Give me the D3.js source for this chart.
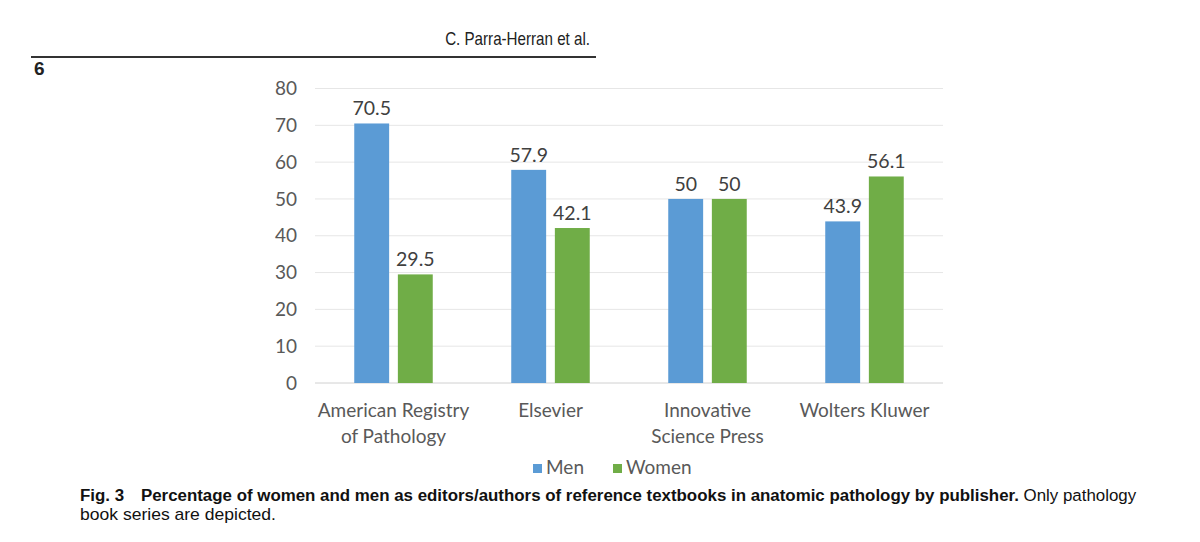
<!DOCTYPE html>
<html>
<head>
<meta charset="utf-8">
<script src="https://cdn.jsdelivr.net/npm/d3@7"></script>
<style>
  body { margin: 0; background: #fff; }
  svg { display: block; }
</style>
</head>
<body>
<svg id="chart" width="1200" height="542"></svg>
<script>
// chart data
var publishers = [["American Registry", "of Pathology"], ["Elsevier"], ["Innovative", "Science Press"], ["Wolters Kluwer"]];
var seriesNames = ["Men", "Women"];
var men = [70.5, 57.9, 50, 43.9];
var women = [29.5, 42.1, 50, 56.1];
var yTicks = [0, 10, 20, 30, 40, 50, 60, 70, 80];
var colors = ["#5b9bd5", "#70ad47"];

var svg = d3.select("#chart");
var chartFont = "Lato, 'Open Sans', sans-serif";
var paperFont = "'Liberation Sans Narrow', 'Liberation Sans', sans-serif";

// page header bits (journal page)
var header = svg.append("text")
  .attr("x", 590).attr("y", 45)
  .attr("text-anchor", "end")
  .attr("font-family", paperFont)
  .attr("font-size", 18)
  .attr("fill", "#222")
  .text("C. Parra-Herran et al.");
svg.append("line")
  .attr("x1", 31).attr("x2", 596)
  .attr("y1", 57).attr("y2", 57)
  .attr("stroke", "#333").attr("stroke-width", 2);
svg.append("text")
  .attr("x", 34).attr("y", 75)
  .attr("font-family", paperFont)
  .attr("font-weight", "bold")
  .attr("font-size", 19)
  .attr("fill", "#222")
  .text("6");

var keys = publishers.map(function(d) { return d.join(" "); });

var x0 = d3.scaleBand()
  .domain(keys)
  .range([315, 943])
  .paddingInner(0.5)
  .paddingOuter(0.25);

var x1 = d3.scaleBand()
  .domain(seriesNames)
  .range([0, x0.bandwidth()])
  .paddingInner(0.2);

var y = d3.scaleLinear()
  .domain([0, 80])
  .range([383, 88.5]);

// gridlines
svg.append("g")
  .selectAll("line")
  .data(yTicks)
  .enter().append("line")
  .attr("x1", 315).attr("x2", 943)
  .attr("y1", function(d) { return y(d); })
  .attr("y2", function(d) { return y(d); })
  .attr("stroke", function(d) { return d === 0 ? "#d0d0d0" : "#e6e6e6"; })
  .attr("stroke-width", 1);

// y axis labels
var yAxis = d3.axisLeft(y).tickValues(yTicks).tickSize(0).tickPadding(0);
var yg = svg.append("g")
  .attr("transform", "translate(297,0)")
  .call(yAxis);
yg.select(".domain").remove();
yg.selectAll("text")
  .attr("font-family", chartFont)
  .attr("font-size", 19)
  .attr("fill", "#595959");

// bars
var rows = keys.map(function(k, i) {
  return { key: k, values: [men[i], women[i]] };
});

var groups = svg.append("g")
  .selectAll("g")
  .data(rows)
  .enter().append("g")
  .attr("transform", function(d) { return "translate(" + x0(d.key) + ",0)"; });

groups.selectAll("rect")
  .data(function(d) { return d.values.map(function(v, j) { return { name: seriesNames[j], value: v, j: j }; }); })
  .enter().append("rect")
  .attr("x", function(d) { return x1(d.name); })
  .attr("y", function(d) { return y(d.value); })
  .attr("width", x1.bandwidth())
  .attr("height", function(d) { return y(0) - y(d.value); })
  .attr("fill", function(d) { return colors[d.j]; });

groups.selectAll("text")
  .data(function(d) { return d.values.map(function(v, j) { return { name: seriesNames[j], value: v }; }); })
  .enter().append("text")
  .attr("x", function(d) { return x1(d.name) + x1.bandwidth() / 2; })
  .attr("y", function(d) { return y(d.value) - 8; })
  .attr("text-anchor", "middle")
  .attr("font-family", chartFont)
  .attr("font-size", 19.5)
  .attr("fill", "#404040")
  .text(function(d) { return d.value; });

// category labels
publishers.forEach(function(lines, i) {
  var t = svg.append("text")
    .attr("text-anchor", "middle")
    .attr("font-family", chartFont)
    .attr("font-size", 19)
    .attr("fill", "#595959");
  lines.forEach(function(l, k) {
    t.append("tspan")
      .attr("x", x0(keys[i]) + x0.bandwidth() / 2)
      .attr("y", 417 + k * 26)
      .text(l);
  });
});

// legend
var legendX = [533, 613];
var legend = svg.append("g");
seriesNames.forEach(function(n, i) {
  legend.append("rect")
    .attr("x", legendX[i]).attr("y", 464)
    .attr("width", 9).attr("height", 9)
    .attr("fill", colors[i]);
  legend.append("text")
    .attr("x", legendX[i] + 13).attr("y", 474)
    .attr("font-family", chartFont)
    .attr("font-size", 19)
    .attr("fill", "#595959")
    .text(n);
});

// figure caption
var cap1 = svg.append("text")
  .attr("x", 80).attr("y", 501)
  .attr("font-family", paperFont)
  .attr("font-size", 17)
  .attr("fill", "#111");
cap1.append("tspan").attr("font-weight", "bold").text("Fig. 3\u2002\u2002Percentage of women and men as editors/authors of reference textbooks in anatomic pathology by publisher.");
cap1.append("tspan").text(" Only pathology");

var cap2 = svg.append("text")
  .attr("x", 80).attr("y", 520)
  .attr("font-family", paperFont)
  .attr("font-size", 17)
  .attr("fill", "#111")
  .text("book series are depicted.");

// squeeze caption lines to the printed widths
function fitWidth(sel, x, w) {
  var bw = sel.node().getBBox().width;
  sel.attr("transform", "translate(" + x + ",0) scale(" + (w / bw) + ",1) translate(" + (-x) + ",0)");
}
fitWidth(cap1, 80, 1057);
fitWidth(cap2, 80, 196);
fitWidth(header, 590, 145);
</script>
</body>
</html>
